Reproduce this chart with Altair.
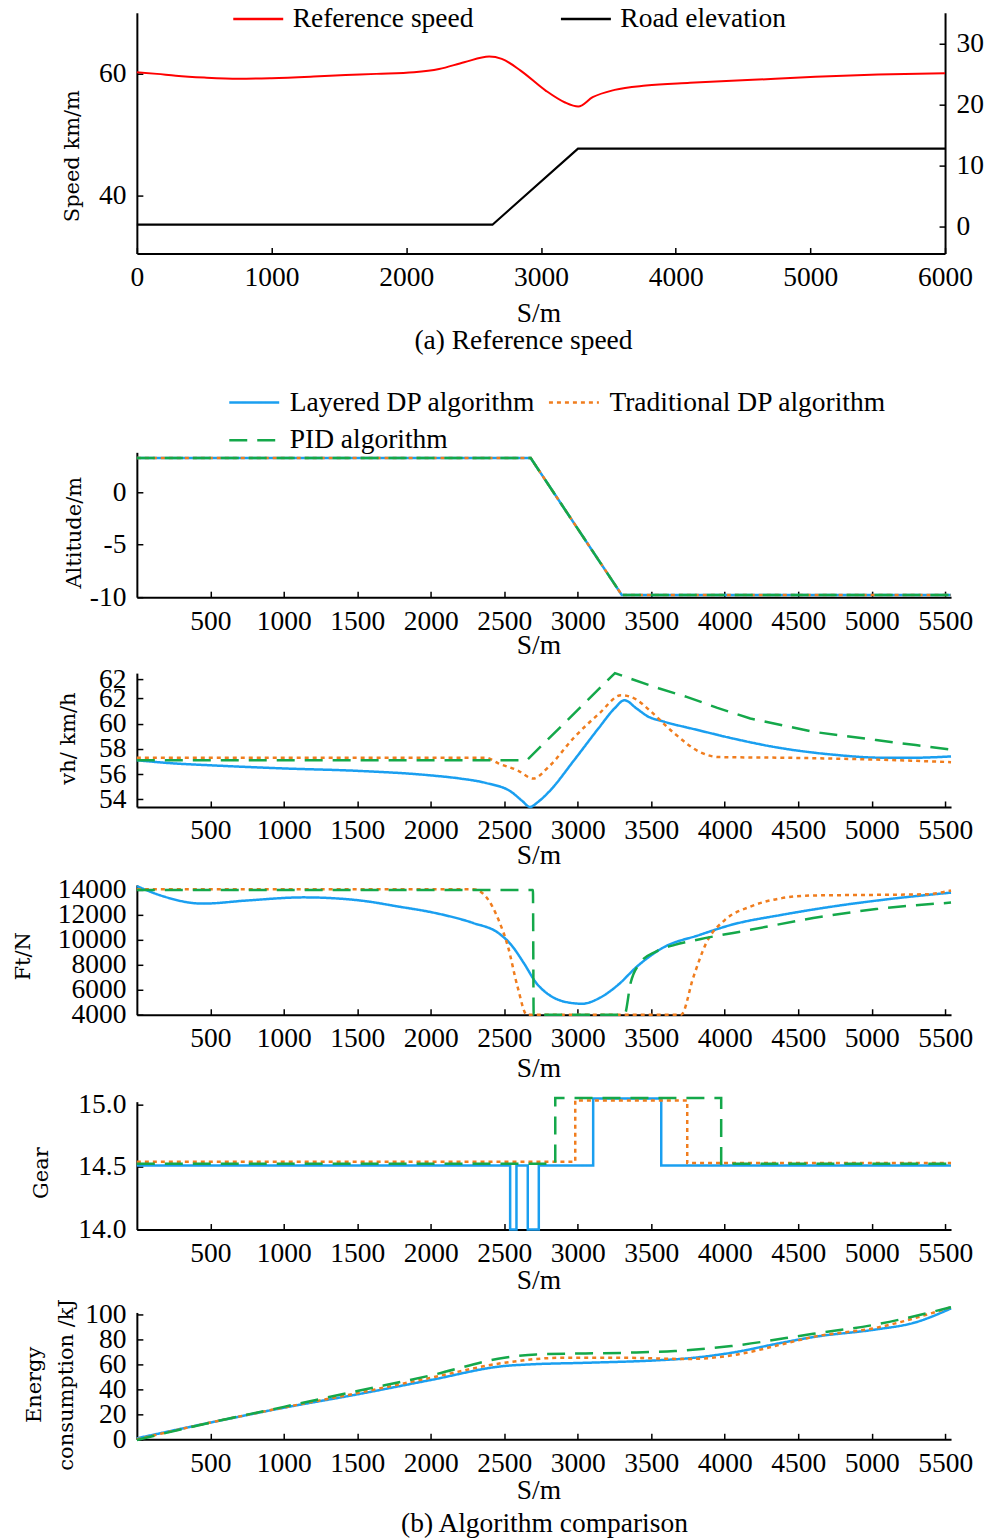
import altair as alt
import pandas as pd

NUM = "Liberation Serif"
TIT = "DejaVu Serif"
FS = 27.5

# ---------------- (a) Reference speed ----------------
A_SERIES = ["Reference speed", "Road elevation"]
a_s = [0, 150, 289, 500, 754, 1000, 1313, 1550, 1778, 2058, 2244, 2430, 2616, 2709,
       2849, 3035, 3175, 3277, 3384, 3547, 3780, 4106, 4572, 5037, 5503, 6000]
a_v = [60.17, 59.9, 59.6, 59.3, 59.1, 59.2, 59.46, 59.7, 59.9, 60.17, 60.7, 61.8, 62.73, 62.35,
       60.44, 57.17, 55.26, 54.55, 56.08, 57.28, 57.99, 58.43, 58.92, 59.41, 59.79, 60.0]
elev_s = [0, 2640, 3275, 6000]
elev_h = [0.3, 0.3, 12.75, 12.75]
CAP_A = "(a) Reference speed"
CAP_B = "(b) Algorithm comparison"

# ---------------- (b) Algorithm comparison ----------------
# legend order (column-major fill): Layered, PID | Traditional
ALGS = ["Layered DP algorithm", "PID algorithm", "Traditional DP algorithm"]
COLS = ["#1a9ff0", "#14a84a", "#f07d1e"]
DASH = [[1, 0], [18, 10], [4, 4]]
BLUE, GREEN, ORANGE = ALGS
X_TICKS = [500, 1000, 1500, 2000, 2500, 3000, 3500, 4000, 4500, 5000, 5500]

# Altitude
alt_s = [0, 2680, 3300, 5540]
alt_v = [3.25, 3.25, -9.8, -9.8]

# Vehicle speed
vh_blue_s = [0, 250, 500, 1000, 1500, 2000, 2200, 2375, 2547, 2620, 2675, 2730, 2804, 2975,
             3146, 3250, 3318, 3400, 3480, 3574, 3831, 4045, 4388, 4730, 5073, 5287, 5540]
vh_blue_v = [57.1, 56.85, 56.7, 56.45, 56.26, 55.9, 55.65, 55.3, 54.6, 53.9, 53.4, 53.8, 54.6, 57.1,
             59.7, 61.2, 61.85, 61.2, 60.55, 60.2, 59.45, 58.85, 58.05, 57.55, 57.3, 57.3, 57.4]
vh_or_s = [0, 2375, 2460, 2590, 2697, 2804, 2975, 3146, 3296, 3400, 3489, 3660, 3831, 3960, 4388, 5030, 5540]
vh_or_v = [57.3, 57.3, 56.85, 56.3, 55.65, 56.6, 58.9, 60.8, 62.25, 61.9, 61.05, 59.2, 57.75, 57.35, 57.3, 57.15, 56.95]
vh_gr_s = [0, 2654, 3253, 3360, 3550, 3746, 3950, 4174, 4400, 4602, 4800, 5030, 5300, 5540]
vh_gr_v = [57.1, 57.1, 64.0, 63.55, 62.8, 62.1, 61.25, 60.4, 59.85, 59.35, 59.05, 58.7, 58.3, 57.95]

# Traction force
ft_blue_s = [0, 150, 450, 750, 1134, 1520, 1777, 2033, 2290, 2461, 2547, 2633, 2718, 2804, 2932,
             3030, 3146, 3275, 3403, 3574, 3831, 4045, 4388, 4730, 5116, 5540]
ft_blue_v = [14300, 13600, 12900, 13150, 13400, 13150, 12670, 12140, 11340, 10540, 9600, 8140, 6540,
             5600, 4990, 4880, 5330, 6400, 7860, 9330, 10400, 11200, 12000, 12660, 13260, 13780]
ft_or_s = [0, 2290, 2375, 2461, 2525, 2590, 2654, 3703, 3788, 3874, 4002, 4174, 4388, 4602, 5030, 5372, 5540]
ft_or_v = [14050, 14050, 13460, 11600, 9460, 6260, 4000, 4000, 7060, 9740, 11600, 12660, 13340, 13550,
           13600, 13650, 13950]
ft_gr_s = [0, 2695, 2700, 3318, 3360, 3425, 3532, 3660, 3831, 4174, 4602, 5030, 5540]
ft_gr_v = [14000, 14000, 4000, 4000, 6560, 8160, 9060, 9600, 10050, 10800, 11740, 12460, 12980]

# Gear
g_blue_s = [0, 2540, 2540, 2583, 2583, 2660, 2660, 2735, 2735, 3105, 3105, 3568, 3568, 5540]
g_blue_v = [14.51, 14.51, 14.0, 14.0, 14.51, 14.51, 14.0, 14.0, 14.51, 14.51, 15.045, 15.045, 14.51, 14.51]
g_or_s = [0, 2983, 2983, 3745, 3745, 5540]
g_or_v = [14.54, 14.54, 15.03, 15.03, 14.53, 14.53]
g_gr_s = [0, 2847, 2847, 3976, 3976, 5540]
g_gr_v = [14.525, 14.525, 15.05, 15.05, 14.525, 14.525]

# Energy consumption
e_blue_s = [0, 500, 1000, 1500, 2000, 2500, 2675, 3060, 3530, 3745, 4045, 4388, 4602, 5030, 5287, 5540]
e_blue_v = [0.8, 13.4, 25.3, 36, 47.5, 58.7, 60, 61.3, 63.2, 64.8, 69.3, 77.3, 81.9, 88, 93.3, 104.8]
e_or_s = [0, 500, 1000, 1500, 2000, 2500, 2890, 3318, 3745, 4088, 4388, 4602, 5030, 5540]
e_or_v = [0, 13.4, 25.5, 37, 49.3, 61.3, 65.3, 65.3, 64.3, 68, 76, 82, 89.3, 105.8]
e_gr_s = [0, 500, 1000, 1500, 2000, 2500, 2718, 3318, 3660, 4045, 4602, 5030, 5540]
e_gr_v = [-0.5, 13.4, 26, 38.7, 51.2, 65.3, 68, 69.3, 70.7, 74.7, 84.5, 92, 105.8]


def series_df(alg, s, v):
    return pd.DataFrame({"s": s, "v": v, "alg": alg, "i": list(range(len(s)))})


def legend_b():
    return alt.Legend(orient="none", legendX=91, legendY=-63, columns=2, columnPadding=12,
                      rowPadding=10, clipHeight=26, symbolType="stroke", symbolSize=2500,
                      symbolStrokeWidth=2.5, labelFont=NUM, labelFontSize=FS, labelColor="black",
                      labelOffset=9, labelLimit=400, title=None, padding=0)


def panel_b(series, ydom, yvals, ytitle, tx, ty, xty, height, legend=False,
            label_expr=None, yfmt=None, tlh=None):
    yk = dict(values=yvals, title=ytitle, titleX=tx, titleY=ty, titleAngle=270,
              titleBaseline="middle", titleAlign="center")
    if label_expr:
        yk["labelExpr"] = label_expr
    if yfmt:
        yk["format"] = yfmt
    if tlh:
        yk["titleLineHeight"] = tlh
    xk = dict(values=X_TICKS, title="S/m", titleX=402, titleY=xty, titleBaseline="middle",
              titleAlign="center", format="d")
    lg = legend_b() if legend else None
    layers = []
    for alg, s, v, interp in series:
        layers.append(alt.Chart(series_df(alg, s, v)).mark_line(strokeWidth=2.5, interpolate=interp).encode(
            x=alt.X("s:Q", scale=alt.Scale(domain=[0, 5540], nice=False, zero=False), axis=alt.Axis(**xk)),
            y=alt.Y("v:Q", scale=alt.Scale(domain=ydom, nice=False, zero=False), axis=alt.Axis(**yk)),
            color=alt.Color("alg:N", scale=alt.Scale(domain=ALGS, range=COLS), legend=lg),
            strokeDash=alt.StrokeDash("alg:N", scale=alt.Scale(domain=ALGS, range=DASH), legend=lg),
            order="i:Q",
        ))
    return alt.layer(*layers).properties(width=815, height=height)


# ---- panel (a)
ref_df = pd.DataFrame({"s": a_s, "v": a_v, "series": A_SERIES[0]})
elev_df = pd.DataFrame({"s": elev_s, "v": elev_h, "series": A_SERIES[1]})
a_color = alt.Color("series:N", scale=alt.Scale(domain=A_SERIES, range=["#ff0000", "#000000"]),
                    legend=alt.Legend(orient="none", legendX=95, legendY=-7, columns=2,
                                      columnPadding=86, clipHeight=26, symbolType="stroke",
                                      symbolSize=2500, symbolStrokeWidth=2.5, labelFont=NUM,
                                      labelFontSize=FS, labelColor="black", labelOffset=8,
                                      labelLimit=400, title=None, padding=0))
xa = alt.X("s:Q", scale=alt.Scale(domain=[0, 6000], nice=False, zero=False),
           axis=alt.Axis(values=[0, 1000, 2000, 3000, 4000, 5000, 6000], title="S/m", titleX=402,
                         titleY=60, titleBaseline="middle", titleAlign="center", format="d"))
red = alt.Chart(ref_df).mark_line(strokeWidth=2, interpolate="monotone").encode(
    x=xa,
    y=alt.Y("v:Q", scale=alt.Scale(domain=[30.5, 69.9], nice=False, zero=False),
            axis=alt.Axis(values=[40, 60], title="Speed km/m", orient="left", titleX=-64, titleY=143,
                          titleAngle=270, titleBaseline="middle", titleAlign="center")),
    color=a_color,
)
blk = alt.Chart(elev_df).mark_line(strokeWidth=2.2).encode(
    x=xa,
    y=alt.Y("v:Q", scale=alt.Scale(domain=[-4.42, 35.0], nice=False, zero=False),
            axis=alt.Axis(values=[0, 10, 20, 30], orient="right", title=None)),
    color=a_color,
)
cap_a = alt.Chart(pd.DataFrame({"t": [CAP_A]})).mark_text(font=NUM, fontSize=FS, color="black").encode(
    x=alt.value(387), y=alt.value(329), text="t:N")
panel_a = alt.layer(red, blk, cap_a).resolve_scale(y="independent").properties(width=809, height=241)

# ---- panels (b)
alt_p = panel_b([(BLUE, alt_s, alt_v, "linear"), (ORANGE, alt_s, alt_v, "linear"), (GREEN, alt_s, alt_v, "linear")],
                [-10, 3.8], [0, -5, -10], "Altitude/m", -62, 80, 48, 145,
                legend=True, label_expr="'' + datum.value")
vh_p = panel_b([(BLUE, vh_blue_s, vh_blue_v, "monotone"), (ORANGE, vh_or_s, vh_or_v, "monotone"),
                (GREEN, vh_gr_s, vh_gr_v, "linear")],
               [53.4, 64.0], [54, 56, 58, 60, 62, 63.5], "vh/ km/h", -68, 65, 49, 134,
               label_expr="datum.value > 63 ? '62' : '' + datum.value")
ft_p = panel_b([(BLUE, ft_blue_s, ft_blue_v, "monotone"), (ORANGE, ft_or_s, ft_or_v, "monotone"),
                (GREEN, ft_gr_s, ft_gr_v, "monotone")],
               [4000, 14400], [4000, 6000, 8000, 10000, 12000, 14000], "Ft/N", -113, 71, 54, 130,
               yfmt="d")
gear_p = panel_b([(BLUE, g_blue_s, g_blue_v, "linear"), (ORANGE, g_or_s, g_or_v, "linear"),
                  (GREEN, g_gr_s, g_gr_v, "linear")],
                 [14.0, 15.02], [14.0, 14.5, 15.0], "Gear", -95, 71, 51, 128, yfmt=".1f")
en_line = panel_b([(BLUE, e_blue_s, e_blue_v, "monotone"), (ORANGE, e_or_s, e_or_v, "monotone"),
                   (GREEN, e_gr_s, e_gr_v, "monotone")],
                  [0, 101.6], [0, 20, 40, 60, 80, 100], ["Energy", "consumption /kJ"], -102, 72, 51, 127,
                  yfmt="d", tlh=32)
cap_b = alt.Chart(pd.DataFrame({"t": [CAP_B]})).mark_text(font=NUM, fontSize=FS, color="black").encode(
    x=alt.value(408), y=alt.value(212), text="t:N")
en_p = alt.layer(en_line, cap_b).properties(width=815, height=127)


def spacer(h):
    return alt.Chart(pd.DataFrame({"z": [0]})).mark_point(opacity=0).encode(
        x=alt.X("z:Q", axis=None), y=alt.Y("z:Q", axis=None)).properties(width=815, height=h)


chart = alt.vconcat(
    panel_a, spacer(199), alt_p, spacer(76), vh_p, spacer(78), ft_p, spacer(87), gear_p, spacer(83), en_p,
    spacing=0, bounds="flush",
).resolve_scale(color="independent", strokeDash="independent").properties(
    padding={"left": 13, "top": 5, "right": 0, "bottom": 0}
).configure_view(stroke=None).configure_axis(
    domainColor="black", domainWidth=2, tickColor="black", tickWidth=1.5, tickSize={"expr": "-6"},
    labelFont=NUM, labelFontSize=FS, labelColor="black", labelPadding=17, grid=False,
    labelOverlap=False, labelFlush=False, titleColor="black", titleFontWeight="normal",
).configure_axisX(titleFont=NUM, titleFontSize=FS, labelPadding=16).configure_axisY(titleFont=TIT, titleFontSize=21)

chart.save("out.html", embed_options={"renderer": "svg", "actions": False})
